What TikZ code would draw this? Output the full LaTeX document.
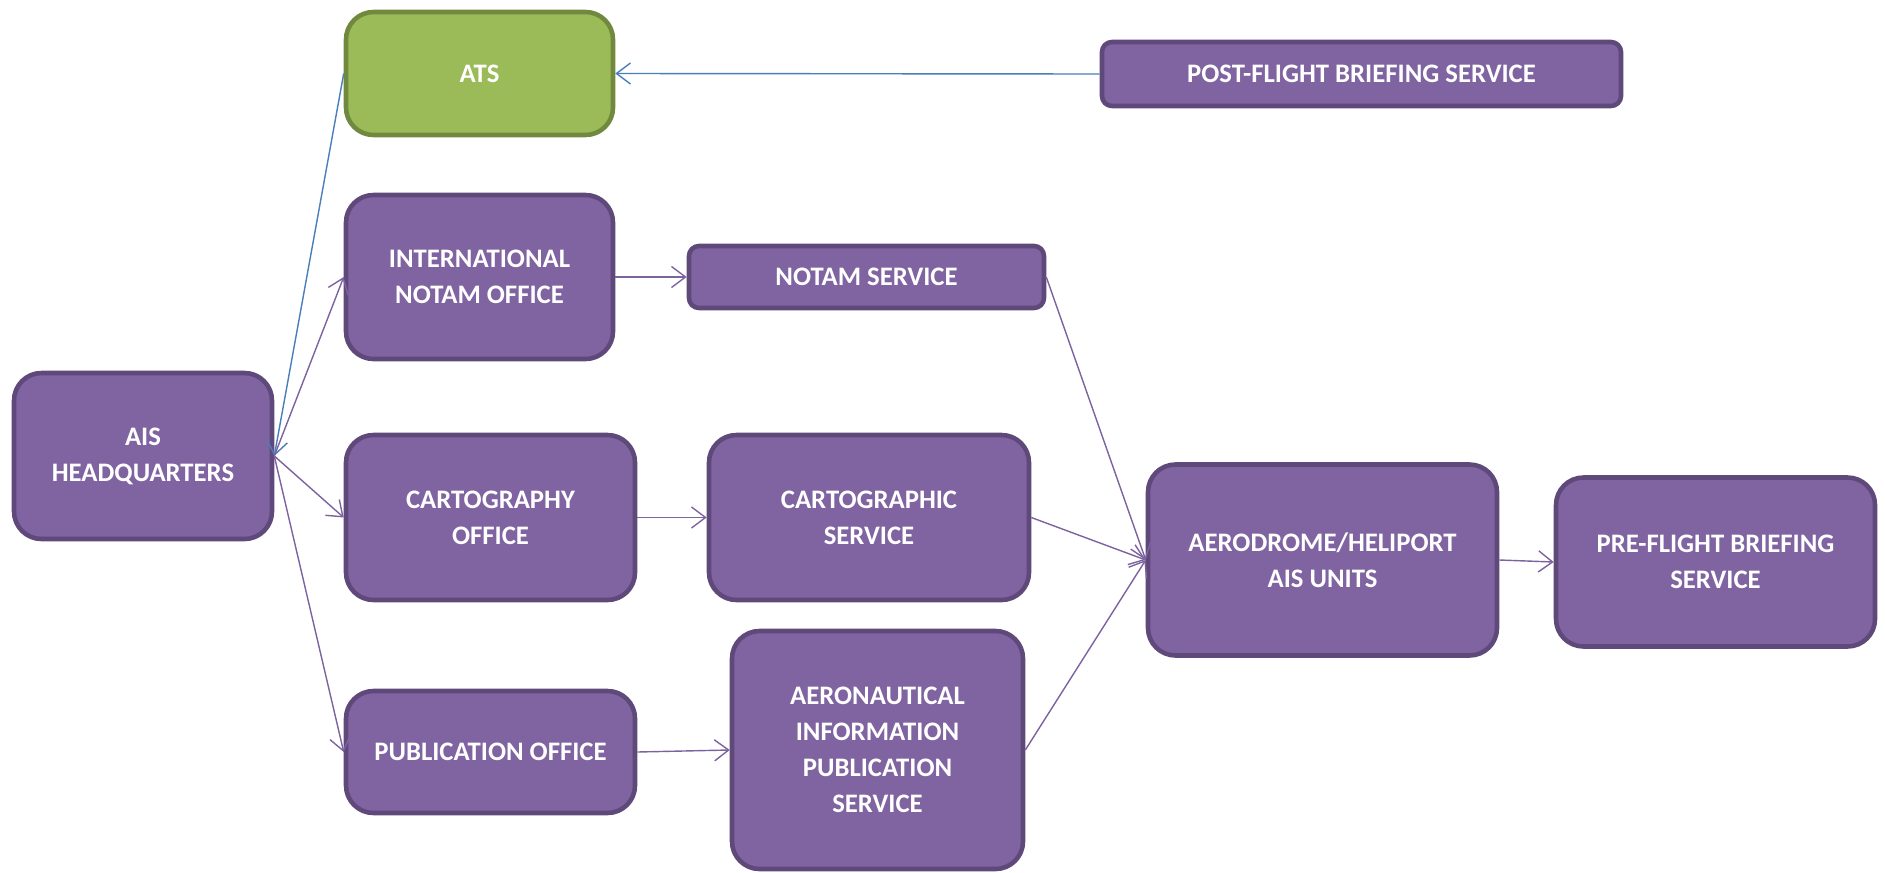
\documentclass[tikz,border=0pt]{standalone}
\usepackage{fontspec}
\setmainfont{Carlito}
\usetikzlibrary{arrows.meta}
\definecolor{boxpurple}{HTML}{8064A2}
\definecolor{boxpurpleline}{HTML}{5F497A}
\definecolor{boxgreen}{HTML}{9BBB59}
\definecolor{boxgreenline}{HTML}{71893F}
\definecolor{linkblue}{HTML}{4A7EBB}
\definecolor{linkpurple}{HTML}{7D62A0}
\newcommand{\unitpx}{0.02cm}
\tikzset{
    common/.style={draw=boxpurpleline, fill=boxpurple, line width=2.6pt, text=white,
        font=\fontsize{15.2}{20.5}\selectfont\bfseries, align=center, inner sep=0pt},
    office/.style 2 args={common, rounded corners=0.55cm,
        minimum width=#1*\unitpx, minimum height=#2*\unitpx},
    strip/.style 2 args={common, rounded corners=0.2cm,
        minimum width=#1*\unitpx, minimum height=#2*\unitpx},
    atsbox/.style={draw=boxgreenline, fill=boxgreen},
    link/.style={draw=linkpurple, line width=0.8pt, -{Straight Barb[length=8pt, width=12pt]}},
    bluelink/.style={link, draw=linkblue}
}
\begin{document}
\begin{tikzpicture}[x=\unitpx, y=-\unitpx]
    \useasboundingbox (0,0) rectangle (1885,872);

    \node[office={267}{123}, atsbox] (ats) at (479.5,73.5) {ATS};
    \node[strip={519}{64}] (post) at (1361.5,74) {POST-FLIGHT BRIEFING SERVICE};
    \node[office={267}{164}] (intl) at (479.5,277) {INTERNATIONAL\\NOTAM OFFICE};
    \node[strip={355}{62}] (notam) at (866.5,277) {NOTAM SERVICE};
    \node[office={258}{166}] (hq) at (143,456) {AIS\\HEADQUARTERS};
    \node[office={289}{165}] (carto) at (490.5,517.5) {CARTOGRAPHY\\OFFICE};
    \node[office={320}{165}] (cartosrv) at (869,517.5) {CARTOGRAPHIC\\SERVICE};
    \node[office={349}{191}] (aero) at (1322.5,560) {AERODROME/HELIPORT\\AIS UNITS};
    \node[office={319}{169}] (pre) at (1715.5,562) {PRE-FLIGHT BRIEFING\\SERVICE};
    \node[office={289}{122}] (pub) at (490.5,752) {PUBLICATION OFFICE};
    \node[office={291}{238}] (aip) at (877.5,750) {AERONAUTICAL\\INFORMATION\\PUBLICATION\\SERVICE};

    % blue links
    \draw[bluelink] (post.west) -- (ats.east);
    \draw[bluelink] (ats.west) -- (hq.east);

    % headquarters to offices
    \draw[link] (hq.east) -- (intl.west);
    \draw[link] (hq.east) -- (carto.west);
    \draw[link] (hq.east) -- (pub.west);

    % offices to services
    \draw[link] (intl.east) -- (notam.west);
    \draw[link] (carto.east) -- (cartosrv.west);
    \draw[link] (pub.east) -- (aip.west);

    % services to aerodrome units
    \draw[link] (notam.east) -- (aero.west);
    \draw[link] (cartosrv.east) -- (aero.west);
    \draw[link] (aip.east) -- (aero.west);
    \draw[link] (aero.east) -- (pre.west);
\end{tikzpicture}
\end{document}
